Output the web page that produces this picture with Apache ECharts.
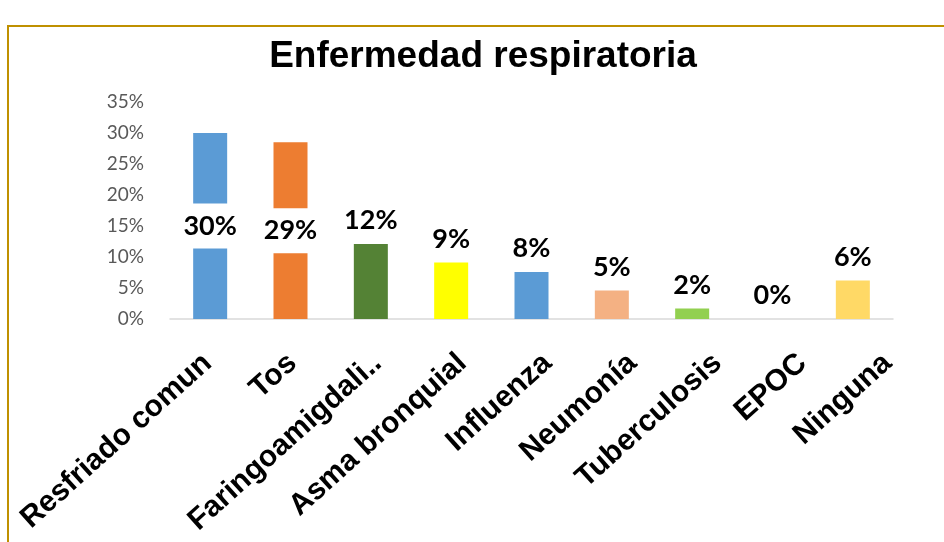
<!DOCTYPE html>
<html>
<head>
<meta charset="utf-8">
<script src="https://cdn.jsdelivr.net/npm/echarts@6/dist/echarts.min.js"></script>
<style>html,body{margin:0;padding:0;background:#fff;}#chart{width:944px;height:542px;}</style>
</head>
<body>
<div id="chart"></div>
<script>
const categories = ["Resfriado comun", "Tos", "Faringoamigdali..", "Asma bronquial", "Influenza", "Neumonía", "Tuberculosis", "EPOC", "Ninguna"];
const values = [30.0, 28.5, 12.1, 9.1, 7.6, 4.6, 1.7, 0, 6.2];
const barColors = ["#5B9BD5", "#ED7D31", "#548235", "#FFFF00", "#5B9BD5", "#F4B183", "#92D050", "#A5A5A5", "#FFD966"];
const insideLabel = [true, true, false, false, false, false, false, false, false];
const yTicks = [0, 5, 10, 15, 20, 25, 30, 35];

const chart = echarts.init(document.getElementById('chart'), null, {renderer: 'canvas'});

const labelBase = {
  show: true,
  fontFamily: 'Lato',
  fontWeight: 'bold',
  fontSize: 27,
  color: '#000',
  formatter: p => Math.round(p.value) + '%'
};

const data = values.map((v, i) => ({
  value: v,
  itemStyle: {color: barColors[i]},
  label: insideLabel[i]
    ? Object.assign({}, labelBase, {position: 'inside', backgroundColor: '#fff', padding: [9, 2], lineHeight: 27})
    : Object.assign({}, labelBase, {position: 'top', distance: 10})
}));

chart.setOption({
  animation: false,
  title: {
    text: 'Enfermedad respiratoria',
    left: 478,
    textAlign: 'center',
    top: 33,
    textStyle: {fontFamily: 'Liberation Sans', fontWeight: 'bold', fontSize: 37, color: '#000'}
  },
  graphic: [{
    type: 'rect',
    shape: {x: 8, y: 26, width: 1000, height: 600},
    style: {fill: 'none', stroke: '#BF9000', lineWidth: 2},
    silent: true
  }],
  grid: [
    {left: 170, right: 51, top: 102, bottom: 223, containLabel: false},
    {left: 165, right: 14, top: 102, bottom: 223, containLabel: false}
  ],
  xAxis: [{
    type: 'category',
    gridIndex: 0,
    data: categories,
    axisLine: {show: true, lineStyle: {color: '#D9D9D9', width: 1.5}},
    axisTick: {show: false},
    axisLabel: {show: false}
  }, {
    type: 'category',
    gridIndex: 1,
    data: categories,
    axisLine: {show: false},
    axisTick: {show: false},
    axisLabel: {
      interval: 0,
      rotate: 42,
      margin: 40,
      fontFamily: 'Liberation Sans',
      fontWeight: 'bold',
      fontSize: 30,
      color: '#000'
    }
  }],
  yAxis: [{
    type: 'value',
    gridIndex: 0,
    min: yTicks[0],
    max: yTicks[yTicks.length - 1],
    interval: 5,
    axisLine: {show: false},
    axisTick: {show: false},
    splitLine: {show: false},
    axisLabel: {
      formatter: v => v + '%',
      margin: 26,
      fontFamily: 'Lato',
      fontSize: 19,
      color: '#595959'
    }
  }, {
    type: 'value',
    gridIndex: 1,
    min: yTicks[0],
    max: yTicks[yTicks.length - 1],
    show: false
  }],
  series: [{
    type: 'bar',
    xAxisIndex: 0,
    yAxisIndex: 0,
    data: data,
    barWidth: 34
  }]
});
</script>
</body>
</html>
